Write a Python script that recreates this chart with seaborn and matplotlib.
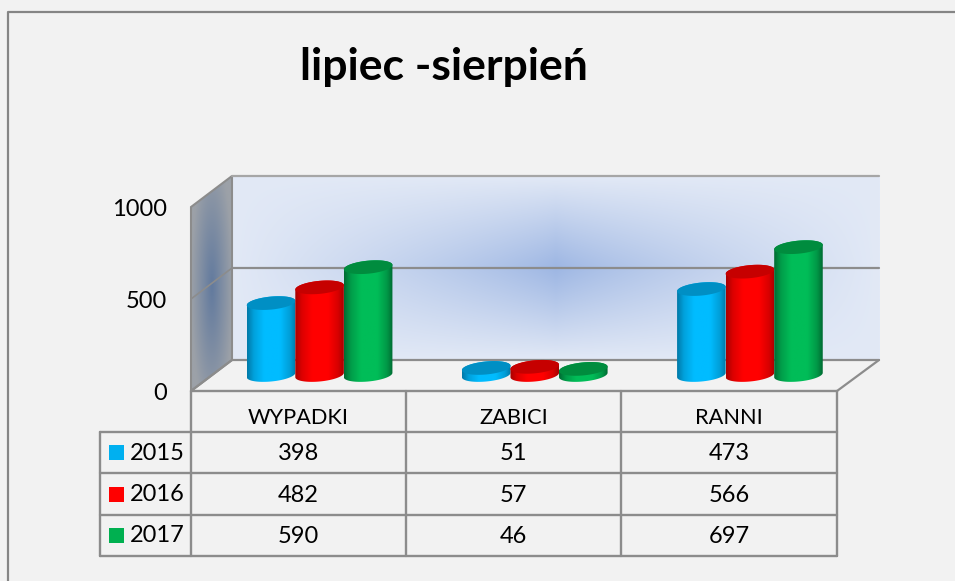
import numpy as np
import pandas as pd
import matplotlib
matplotlib.use('Agg')
import matplotlib.pyplot as plt
import seaborn as sns
from matplotlib.colors import to_rgb
from matplotlib.patches import Polygon

categorias = ["WYPADKI", "ZABICI", "RANNI"]
anios = ["2015", "2016", "2017"]
v2015 = [398, 51, 473]
v2016 = [482, 57, 566]
v2017 = [590, 46, 697]
ticks_y = [0, 500, 1000]
titulo = "lipiec -sierpień"

colores = ["#00B0F0", "#FF0000", "#00B050"]
brillo = ["#00BCFF", "#FF0000", "#00BD58"]
sombra = ["#0079A8", "#A80000", "#006B32"]
tapa = ["#008FC4", "#C60000", "#008C3E"]
BG = "#F2F2F2"
LINEA = "#8C8C8C"
W, H = 955, 581

sns.set_theme(style="white")
plt.rcParams['font.family'] = ['Lato', 'DejaVu Sans']

df = pd.DataFrame({"kat": categorias, "2015": v2015, "2016": v2016, "2017": v2017})
df = df.melt(id_vars="kat", var_name="rok", value_name="val")


def caja(x0, y_top, x1, y_bot):
    return [x0 / W, 1 - y_bot / H, (x1 - x0) / W, (y_bot - y_top) / H]


fig = plt.figure(figsize=(W / 100, H / 100), dpi=100, facecolor=BG)

# fondo en pixeles
bg = fig.add_axes([0, 0, 1, 1], zorder=0)
bg.set_facecolor(BG)

# barras, escala propia
ax = fig.add_axes(caja(212, 190.5, 857.5, 377.5), zorder=1)
sns.barplot(data=df, x="kat", y="val", hue="rok", order=categorias, hue_order=anios,
            palette=colores, width=0.677, gap=0, saturation=1, legend=False, ax=ax)
ax.set_xlim(-0.5, 2.5)
ax.set_ylim(0, 1000)
ax.axis('off')

# eje de valores
ax_val = fig.add_axes(caja(191, 207, 192, 392), zorder=1)
ax_val.set_ylim(0, 1000)
ax_val.set_yticks(ticks_y)
ax_val.set_yticklabels([str(t) for t in ticks_y], fontsize=17, color='black')
ax_val.tick_params(axis='y', length=0, pad=17)
ax_val.set_xticks([])
ax_val.patch.set_alpha(0)
for s in ax_val.spines.values():
    s.set_visible(False)

# pared del fondo
gx, gy = np.meshgrid(np.linspace(-1, 1, 400), np.linspace(-1, 1, 200))
d = (1 - (1 - np.abs(gx) ** 0.8) * (1 - np.abs(gy) ** 1.1))[..., None]
c_centro = np.array(to_rgb("#9DB6E3"))
c_borde = np.array(to_rgb("#E2E9F6"))
bg.imshow(c_centro + (c_borde - c_centro) * d, extent=(232, 879, 360, 176),
          aspect='auto', zorder=1, interpolation='bilinear')

# pared lateral
gx, gy = np.meshgrid(np.linspace(-1, 1, 80), np.linspace(-1, 1, 200))
d = np.clip(np.sqrt(gx ** 2 + ((gy - 0.03) * 0.8) ** 2), 0, 1)[..., None]
c_centro = np.array(to_rgb("#627A9E"))
c_borde = np.array(to_rgb("#9CA1A8"))
im = bg.imshow(c_centro + (c_borde - c_centro) * d, extent=(191, 232, 391, 176),
               aspect='auto', zorder=1, interpolation='bilinear')
lado = Polygon([(191, 207), (232, 176), (232, 360), (191, 391)], closed=True,
               facecolor='none', edgecolor=LINEA, lw=1.5, zorder=2)
bg.add_patch(lado)
im.set_clip_path(lado)

# lineas de pared y piso
bg.plot([232, 879], [176, 176], color="#A6A6A6", lw=1.6, zorder=3)
bg.plot([232, 879], [360, 360], color=LINEA, lw=1.6, zorder=3)
bg.plot([232, 879], [268, 268], color=LINEA, lw=1.6, zorder=3)
bg.plot([191, 232], [299, 268], color=LINEA, lw=1.2, zorder=3)
bg.plot([191, 232], [391, 360], color=LINEA, lw=1.6, zorder=3)
bg.plot([837, 879], [391, 360], color=LINEA, lw=1.6, zorder=3)

# cilindros a partir de las barras
for i, p in enumerate(ax.patches):
    (x0, y0), (x1, y1) = ax.transData.transform([(p.get_x(), 0), (p.get_x() + p.get_width(), p.get_height())])
    p.set_visible(False)
    base = H - y0 - 2.5
    tope = H - y1
    a = (x1 - x0) / 2
    cx = (x0 + x1) / 2
    b, k = 6.5, 2.2
    t = np.linspace(0, np.pi, 50)
    arriba_x = cx - a * np.cos(t)
    arriba_y = tope - b * np.sin(t) + k * np.cos(t)
    abajo_x = cx + a * np.cos(t)
    abajo_y = base + b * np.sin(t) - k * np.cos(t)
    serie = i // 3
    cuerpo = Polygon(np.column_stack([np.r_[arriba_x, abajo_x], np.r_[arriba_y, abajo_y]]),
                     closed=True, facecolor='none', edgecolor='none', zorder=10 + i)
    bg.add_patch(cuerpo)
    pos = np.linspace(0, 1, 128)
    c0, c1 = np.array(to_rgb(sombra[serie])), np.array(to_rgb(brillo[serie]))
    f = np.interp(pos, [0, 0.14, 0.35, 0.68, 0.88, 1], [0, 0.6, 1, 1, 0.55, 0])[..., None]
    grad = (c0 + (c1 - c0) * f)[None, ...]
    im = bg.imshow(grad, extent=(x0, x1, base + 10, tope - 10), aspect='auto',
                   zorder=10 + i, interpolation='bilinear')
    im.set_clip_path(cuerpo)
    tt = np.linspace(0, 2 * np.pi, 80)
    bg.fill(cx - a * np.cos(tt), tope - b * np.sin(tt) + k * np.cos(tt),
            color=tapa[serie], lw=0, zorder=10 + i + 0.5)

# tabla de datos
col_x = [191, 406, 621, 837]
fila_y = [391, 432, 473, 515, 556]
for x in col_x:
    bg.plot([x, x], [fila_y[0], fila_y[-1]], color=LINEA, lw=1.7, zorder=3)
for j, y in enumerate(fila_y):
    x_ini = col_x[0] if j == 0 else 100
    bg.plot([x_ini, col_x[-1]], [y, y], color=LINEA, lw=1.7, zorder=3)
bg.plot([100, 100], [fila_y[1], fila_y[-1]], color=LINEA, lw=1.7, zorder=3)

for c, nombre in enumerate(categorias):
    bg.text((col_x[c] + col_x[c + 1]) / 2, 418, nombre, ha='center', va='center',
            fontsize=15.7, color='black', zorder=5)

filas = [v2015, v2016, v2017]
for r, fila in enumerate(filas):
    yc = (fila_y[r + 1] + fila_y[r + 2]) / 2
    bg.fill([109, 124, 124, 109], [yc - 7.5, yc - 7.5, yc + 7.5, yc + 7.5], color=colores[r], lw=0, zorder=5)
    bg.text(157.5, yc + 0.5, anios[r], ha='center', va='center', fontsize=17, color='black', zorder=5)
    for c, v in enumerate(fila):
        bg.text((col_x[c] + col_x[c + 1]) / 2, yc + 1, str(v), ha='center', va='center',
                fontsize=17, color='black', zorder=5)

# marco y titulo
bg.plot([8, 8, W], [H, 12, 12], color="#858585", lw=1.6, zorder=3)
bg.text(444, 67, titulo, ha='center', va='center', fontsize=32, fontweight='bold',
        color='black', zorder=5)

bg.set_xlim(0, W)
bg.set_ylim(H, 0)
bg.axis('off')

plt.savefig('out.png', dpi=100, facecolor=BG)
plt.close()
